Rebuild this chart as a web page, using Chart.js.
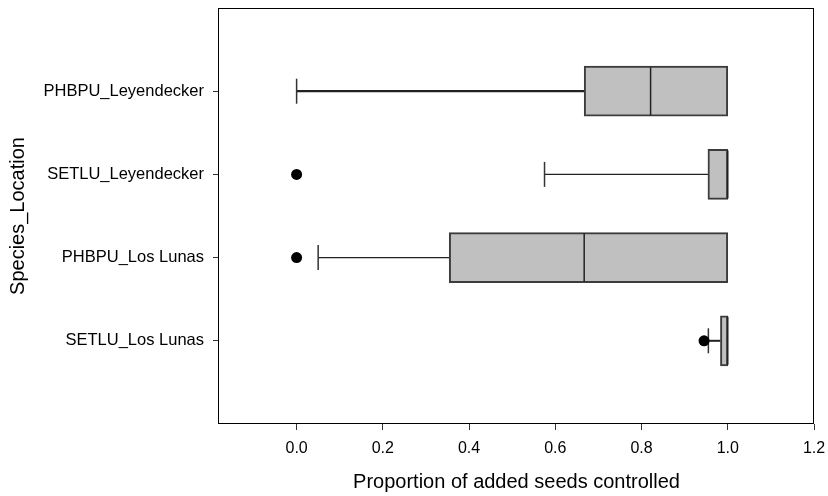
<!DOCTYPE html>
<html lang="en">
  <head>
    <meta charset="UTF-8" />
    <title>Proportion of added seeds controlled</title>
    <script src="https://cdn.jsdelivr.net/npm/chart.js@4.4.1/dist/chart.umd.min.js"></script>
    <style>
      html, body { margin: 0; padding: 0; background: #fff; }
    </style>
  </head>
  <body>
    <canvas id="seeds-graph" width="828" height="496"></canvas>
  <script>
    // values
    const categories = ['PHBPU_Leyendecker', 'SETLU_Leyendecker', 'PHBPU_Los Lunas', 'SETLU_Los Lunas'];
    const whiskerLow = [0.0, 0.575, 0.05, 0.955];
    const q1 = [0.667, 0.954, 0.354, 0.983];
    const median = [0.821, 1.0, 0.667, 1.0];
    const q3 = [1.0, 1.0, 1.0, 1.0];
    const whiskerHigh = [1.0, 1.0, 1.0, 1.0];
    const outlierCategory = ['SETLU_Leyendecker', 'PHBPU_Los Lunas', 'SETLU_Los Lunas'];
    const outlierValue = [0.0, 0.0, 0.945];
    const xTicks = [0.0, 0.2, 0.4, 0.6, 0.8, 1.0, 1.2];

    // style only
    const whiskerWidth = [2.2, 1.2, 1.2, 2];
    const fontFamily = "'Liberation Sans', Arial, sans-serif";

    var datasets = [];

    datasets.push({
      type: 'bar',
      indexAxis: 'y',
      data: categories.map((c, i) => ({ x: [q1[i], q3[i]], y: i + 1 })),
      backgroundColor: '#c0c0c0',
      borderColor: '#3c3c3c',
      borderWidth: 2,
      borderSkipped: false,
      barThickness: 50,
      order: 3
    });

    categories.forEach((c, i) => {
      datasets.push({
        type: 'scatter',
        showLine: true,
        data: [{ x: whiskerLow[i], y: i + 1 }, { x: q1[i], y: i + 1 }],
        borderColor: '#222',
        borderWidth: whiskerWidth[i],
        pointStyle: 'line',
        pointRotation: 90,
        pointRadius: [12.5, 0],
        pointBorderColor: '#333',
        pointBorderWidth: 1.5,
        order: 4
      });
      if (whiskerHigh[i] > q3[i]) {
        datasets.push({
          type: 'scatter',
          showLine: true,
          data: [{ x: q3[i], y: i + 1 }, { x: whiskerHigh[i], y: i + 1 }],
          borderColor: '#222',
          borderWidth: whiskerWidth[i],
          pointStyle: 'line',
          pointRotation: 90,
          pointRadius: [0, 12.5],
          pointBorderColor: '#333',
          pointBorderWidth: 1.5,
          order: 4
        });
      }
    });

    datasets.push({
      type: 'scatter',
      data: categories.map((c, i) => ({ x: median[i], y: i + 1 })),
      pointStyle: 'line',
      pointRotation: 90,
      pointRadius: 24,
      pointBorderColor: '#222',
      pointBorderWidth: 1.5,
      order: 2
    });

    datasets.push({
      type: 'scatter',
      data: outlierValue.map((v, i) => ({ x: v, y: categories.indexOf(outlierCategory[i]) + 1 })),
      pointStyle: 'circle',
      pointRadius: 5.5,
      pointBackgroundColor: '#000',
      pointBorderWidth: 0,
      order: 1
    });

    const framePlugin = {
      id: 'frame',
      afterDatasetsDraw(chart) {
        const a = chart.chartArea;
        const ctx = chart.ctx;
        ctx.save();
        ctx.strokeStyle = '#000';
        ctx.lineWidth = 1;
        ctx.strokeRect(Math.round(a.left) - 0.5, Math.round(a.top) + 0.5,
          Math.round(a.right - a.left), Math.round(a.bottom - a.top) - 1);
        ctx.restore();
      }
    };

    function noPadding(s) {
      s.paddingTop = 0;
      s.paddingBottom = 0;
      s.paddingLeft = 0;
      s.paddingRight = 0;
    }

    const seedsChart = document.getElementById('seeds-graph').getContext('2d');
    var seedsGraph = new Chart(seedsChart, {
      type: 'scatter',
      data: { datasets: datasets },
      plugins: [framePlugin],
      options: {
        responsive: false,
        animation: false,
        events: [],
        layout: { autoPadding: false, padding: { top: 8, right: 14, left: 0, bottom: 0 } },
        plugins: {
          legend: { display: false },
          tooltip: { enabled: false }
        },
        scales: {
          x: {
            type: 'linear',
            min: -0.18,
            max: 1.2,
            afterBuildTicks: s => { s.ticks = xTicks.map(v => ({ value: v })); },
            afterFit: s => { s.height = 72; noPadding(s); },
            border: { display: false },
            grid: { drawOnChartArea: false, drawTicks: true, tickLength: 6, color: '#333', offset: false },
            ticks: {
              color: '#000',
              font: { family: fontFamily, size: 16 },
              padding: 9,
              maxRotation: 0,
              autoSkip: false,
              callback: v => v.toFixed(1)
            },
            title: {
              display: true,
              text: 'Proportion of added seeds controlled',
              color: '#000',
              font: { family: fontFamily, size: 20 },
              padding: { top: 14, bottom: 2 }
            }
          },
          y: {
            type: 'linear',
            min: 0,
            max: 5,
            reverse: true,
            offset: false,
            afterBuildTicks: s => { s.ticks = categories.map((c, i) => ({ value: i + 1 })); },
            afterFit: s => { s.width = 219; noPadding(s); },
            border: { display: false },
            grid: { drawOnChartArea: false, drawTicks: true, tickLength: 6, color: '#333', offset: false },
            ticks: {
              color: '#000',
              font: { family: fontFamily, size: 16.5 },
              padding: 9,
              autoSkip: false,
              callback: v => categories[v - 1]
            },
            title: {
              display: true,
              text: 'Species_Location',
              color: '#000',
              font: { family: fontFamily, size: 20 },
              padding: { top: 6, bottom: 0 }
            }
          }
        }
      }
    });
  </script>
  </body>
</html>
